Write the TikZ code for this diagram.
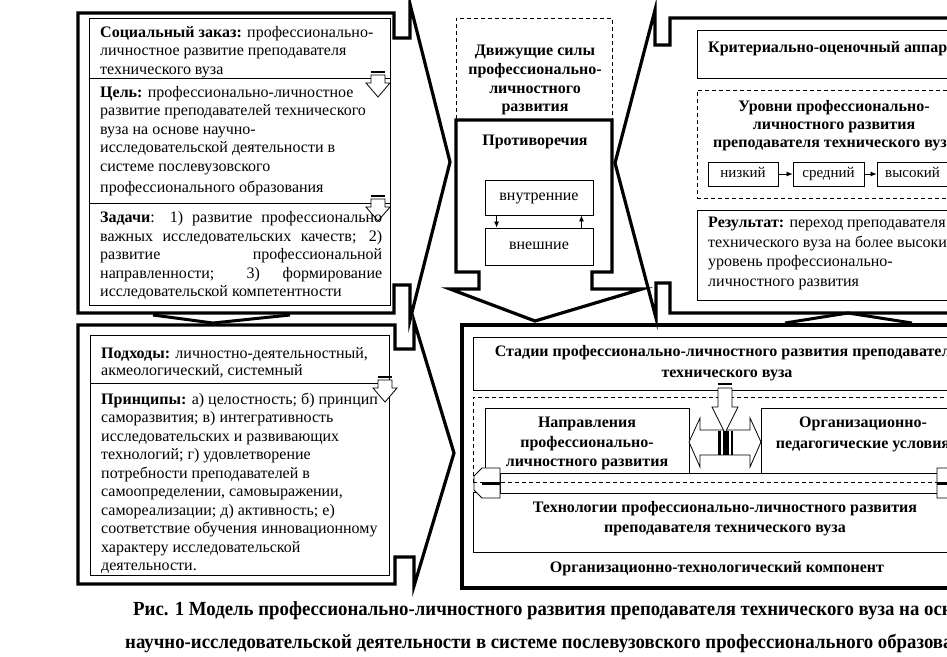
\documentclass[tikz,border=0pt]{standalone}
\usepackage{fontspec}
\setmainfont{Liberation Serif}
\newfontfamily\capfont[FakeStretch=0.94]{Liberation Serif}
\usetikzlibrary{calc,arrows.meta}
\newcommand\bodyf{\fontsize{16}{19}\selectfont}
\newcommand\lvlf{\fontsize{15}{18}\selectfont}
\newcommand\capf{\capfont\fontsize{20}{23}\selectfont\bfseries}
\tikzset{
  callout/.style={draw, line width=3.2pt, line join=miter},
  thinbox/.style={draw, line width=0.9pt, inner sep=0, anchor=north west},
  dashbox/.style={draw, line width=0.9pt, dash pattern=on 4pt off 3pt, inner sep=0, anchor=north west},
  tl/.style={anchor=base west, inner sep=0, font=\bodyf},
  tc/.style={anchor=base, inner sep=0, font=\bodyf\bfseries},
  lvl/.style={draw, line width=0.9pt, inner sep=0, minimum height=24pt, text height=8pt, text depth=2pt, font=\lvlf},
  conn/.style={line width=0.8pt, -{Latex[length=6pt,width=5pt]}},
  sdarrow/.pic={
    \filldraw[fill=white, line width=0.8pt] (-7,4) -- (-7,12) -- (-12,12) -- (0,26) -- (12,12) -- (7,12) -- (7,4) -- cycle;
    \draw[line width=1.8pt] (-7,1) -- (7,1);
  }
}
\begin{document}
\begin{tikzpicture}[x=1pt,y=-1pt]
\useasboundingbox (0,0) rectangle (947,656);
\clip (0,0) rectangle (947,656);
\fill[white] (0,0) rectangle (947,656);

% ---------- big callout frames ----------
\draw[callout] (78,13) -- (394,13) -- (394,38) -- (410,38) -- (410,4) -- (450,162) -- (410,320) -- (410,285) -- (394,285) -- (394,313) -- (78,313) -- cycle;
\draw[callout] (78,325) -- (395,325) -- (395,349) -- (414,349) -- (414,321) -- (454,453) -- (414,586) -- (414,557) -- (395,557) -- (395,584) -- (78,584) -- cycle;
\draw[callout] (975,18) -- (670,18) -- (670,45) -- (655,45) -- (655,10) -- (615,163) -- (656,318) -- (656,283) -- (670,283) -- (670,313) -- (975,313);
\draw[callout] (456,120) -- (612,120) -- (612,272) -- (592,272) -- (592,289) -- (642,289) -- (535,321) -- (450,289) -- (479,289) -- (479,272) -- (456,272) -- cycle;
\draw[callout] (462,325) rectangle (980,588);
\draw[line width=3pt] (153,315) -- (213,323) -- (290,315);
\draw[line width=3pt] (785,323) -- (848,313) -- (912,323);

% ---------- top-left panel ----------
\node[thinbox, minimum width=301pt, minimum height=60pt] (soc) at (89,18) {};
\node[thinbox, minimum width=301pt, minimum height=125pt] (cel) at (89,78) {};
\node[thinbox, minimum width=301pt, minimum height=102pt] (zad) at (89,203) {};
\pic at (378,71) {sdarrow};
\pic at (378,195) {sdarrow};
\node[tl] (s1) at (100,37) {\textbf{Социальный заказ:} профессионально-};
\node[tl] (s2) at (100,55.5) {личностное развитие преподавателя};
\node[tl] (s3) at (100,74) {технического вуза};
\node[tl] (c1) at (100,97) {\textbf{Цель:} профессионально-личностное};
\node[tl] (c2) at (100,115.5) {развитие преподавателей технического};
\node[tl] (c3) at (100,134) {вуза на основе научно-};
\node[tl] (c4) at (100,152.5) {исследовательской деятельности в};
\node[tl] (c5) at (100,171) {системе послевузовского};
\node[tl] (c6) at (100,192) {профессионального образования};
\node[tl] (z1) at (100,222.5) {\makebox[282pt][s]{\textbf{Задачи}: 1) развитие профессионально}};
\node[tl] (z2) at (100,241) {\makebox[282pt][s]{важных исследовательских качеств; 2)}};
\node[tl] (z3) at (100,259.5) {\makebox[282pt][s]{развитие профессиональной}};
\node[tl] (z4) at (100,278) {\makebox[282pt][s]{направленности; 3) формирование}};
\node[tl] (z5) at (100,296) {исследовательской компетентности};

% ---------- bottom-left panel ----------
\node[thinbox, minimum width=299pt, minimum height=48pt] (podh) at (90,335) {};
\node[thinbox, minimum width=299pt, minimum height=192pt] (princ) at (90,383) {};
\pic at (385,376) {sdarrow};
\node[tl] (p1) at (101,358) {\textbf{Подходы:} личностно-деятельностный,};
\node[tl] (p2) at (101,375) {акмеологический, системный};
\node[tl] (q1) at (101,404) {\textbf{Принципы:} а) целостность; б) принцип};
\node[tl] (q2) at (101,422.5) {саморазвития; в) интегративность};
\node[tl] (q3) at (101,441) {исследовательских и развивающих};
\node[tl] (q4) at (101,459.5) {технологий; г) удовлетворение};
\node[tl] (q5) at (101,478) {потребности преподавателей в};
\node[tl] (q6) at (101,496.5) {самоопределении, самовыражении,};
\node[tl] (q7) at (101,515) {самореализации; д) активность; е)};
\node[tl] (q8) at (101,533.5) {соответствие обучения инновационному};
\node[tl] (q9) at (101,552) {характеру исследовательской};
\node[tl] (q10) at (101,570) {деятельности.};

% ---------- top-middle ----------
\node[dashbox, minimum width=156pt, minimum height=102pt] (dvizh) at (456,18) {};
\node[tc] (d1) at (535,55) {Движущие силы};
\node[tc] (d2) at (535,74) {профессионально-};
\node[tc] (d3) at (535,93) {личностного};
\node[tc] (d4) at (535,111) {развития};
\node[tc] (prot) at (535,145) {Противоречия};
\node[lvl, minimum width=108pt, minimum height=35pt, font=\bodyf] (vnutr) at (539,197.5) {внутренние};
\node[lvl, minimum width=108pt, minimum height=37pt, font=\bodyf] (vnesh) at (539,246.5) {внешние};
\draw[conn] ($(vnutr.south west)+(12,0)$) -- ($(vnesh.north west)+(12,0)$);
\draw[conn] ($(vnesh.north east)+(-12,0)$) -- ($(vnutr.south east)+(-12,0)$);

% ---------- top-right panel ----------
\node[thinbox, minimum width=278pt, minimum height=48pt] (krit) at (697,30) {};
\node[tl, font=\bodyf\bfseries] (kt) at (708,52) {Критериально-оценочный аппарат};
\node[dashbox, minimum width=274pt, minimum height=108pt] (urov) at (697,90) {};
\node[tc] (u1) at (834,111) {Уровни профессионально-};
\node[tc] (u2) at (834,129) {личностного развития};
\node[tc] (u3) at (834,147) {преподавателя технического вуза};
\node[lvl, minimum width=70pt] (nizk) at (743,174) {низкий};
\node[lvl, minimum width=71pt] (sred) at (828.5,174) {средний};
\node[lvl, minimum width=71pt] (vys) at (912.5,174) {высокий};
\draw[conn] (nizk) -- (sred);
\draw[conn] (sred) -- (vys);
\node[thinbox, minimum width=274pt, minimum height=90pt] (rez) at (697,210) {};
\node[tl] (r1) at (708,227) {\textbf{Результат:} переход преподавателя};
\node[tl] (r2) at (708,247) {технического вуза на более высокий};
\node[tl] (r3) at (708,266) {уровень профессионально-};
\node[tl] (r4) at (708,286) {личностного развития};

% ---------- bottom-right panel ----------
\node[thinbox, minimum width=508pt, minimum height=53pt] (stad) at (473,337) {};
\node[tc] (st1) at (727,356) {Стадии профессионально-личностного развития преподавателя};
\node[tc] (st2) at (727,377) {технического вуза};
\node[thinbox, minimum width=204pt, minimum height=66pt] (napr) at (485,408) {};
\node[tc] (n1) at (587,427) {Направления};
\node[tc] (n2) at (587,447) {профессионально-};
\node[tc] (n3) at (587,466) {личностного развития};
\node[thinbox, minimum width=204pt, minimum height=66pt] (orgp) at (761,408) {};
\node[tc] (o1) at (863,427) {Организационно-};
\node[tc] (o2) at (863,448) {педагогические условия};
\node[thinbox, minimum width=508pt, minimum height=60pt] (tech) at (473,492) {};
\node[tc] (t1) at (725,512) {Технологии профессионально-личностного развития};
\node[tc] (t2) at (725,532) {преподавателя технического вуза};
\node[tc] (comp) at (717,572) {Организационно-технологический компонент};

% wide striped double arrow
\filldraw[fill=white, line width=0.8pt] (500,473) rectangle (937,493);
\filldraw[fill=white, line width=0.8pt] (500,468) -- (482,468) -- (474,476) -- (474,490) -- (482,498) -- (500,498) -- cycle;
\filldraw[fill=white, line width=0.8pt] (937,468) -- (955,468) -- (963,476) -- (963,490) -- (955,498) -- (937,498) -- cycle;
\draw[line width=3pt] (482,483) -- (500,483);
\draw[line width=3pt] (937,483) -- (955,483);
\node[dashbox, minimum width=508pt, minimum height=85pt] (napob) at (473,397) {};

% centre arrows
\filldraw[fill=white, line width=0.8pt] (689,442) -- (700,418) -- (700,430) -- (750,430) -- (750,418) -- (761,442) -- (750,467) -- (750,455) -- (700,455) -- (700,467) -- cycle;
\filldraw[fill=white, line width=0.8pt] (718,388) -- (718,407) -- (712,407) -- (725,433) -- (738,407) -- (732,407) -- (732,388) -- cycle;
\draw[line width=1.8pt] (718,384) -- (732,384);
\fill (718,431) rectangle (721,455);
\fill (723,431) rectangle (729,455);
\fill (731,431) rectangle (733,455);

% ---------- caption ----------
\node[anchor=base west, inner sep=0, font=\capf] (cap1) at (133,615) {Рис. 1 Модель профессионально-личностного развития преподавателя технического вуза на основе};
\node[anchor=base west, inner sep=0, font=\capf] (cap2) at (125,648) {научно-исследовательской деятельности в системе послевузовского профессионального образования};
\end{tikzpicture}
\end{document}
